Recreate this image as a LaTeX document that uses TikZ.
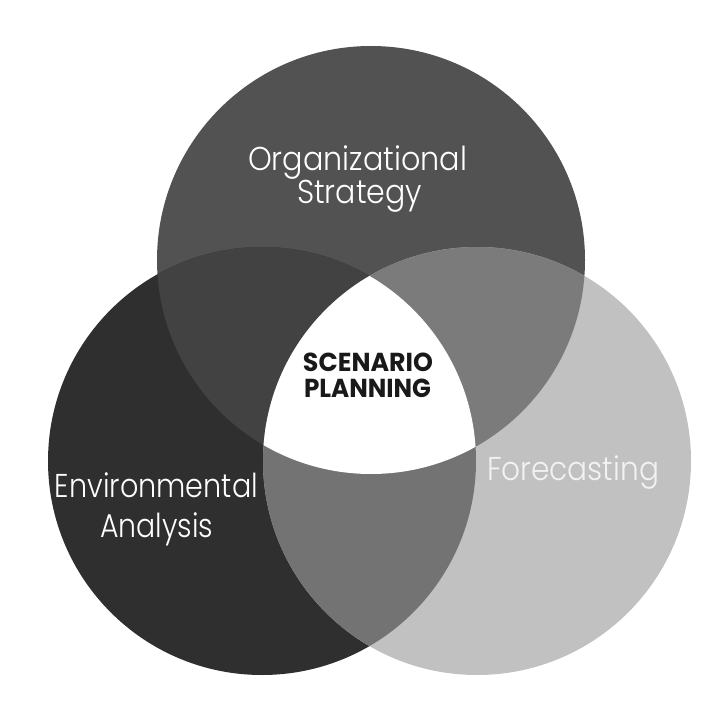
\documentclass[tikz,border=0pt]{standalone}
\usepackage{fontspec}
\usepackage{graphicx}
\setmainfont{Poppins}
\newfontfamily\lightf{Poppins Light}
\definecolor{ctop}{HTML}{525252}
\definecolor{cleft}{HTML}{2F2F2F}
\definecolor{cright}{HTML}{C1C1C1}
\definecolor{ctl}{HTML}{424242}
\definecolor{ctr}{HTML}{7B7B7B}
\definecolor{clr}{HTML}{737373}
\newcommand\fitw[2]{\resizebox{#1}{\height}{#2}}
\begin{document}
\begin{tikzpicture}[x=1pt,y=-1pt,
  lbl/.style={anchor=base,inner sep=0pt,text=white,font=\lightf\fontsize{33}{36}\selectfont},
  core/.style={anchor=base,inner sep=0pt,text=black!90,font=\fontsize{26}{30}\selectfont\bfseries}]
\useasboundingbox[fill=white] (0,0) rectangle (722,722);
\def\R{214pt}
\coordinate (T) at (371,260);
\coordinate (L) at (262,461);
\coordinate (Rc) at (477,461);
% single circles
\fill[ctop] (T) circle[radius=\R];
\fill[cleft] (L) circle[radius=\R];
\fill[cright] (Rc) circle[radius=\R];
% pairwise overlaps
\begin{scope}
  \clip (T) circle[radius=\R];
  \fill[ctl] (L) circle[radius=\R];
  \fill[ctr] (Rc) circle[radius=\R];
\end{scope}
\begin{scope}
  \clip (L) circle[radius=\R];
  \fill[clr] (Rc) circle[radius=\R];
\end{scope}
% triple overlap
\begin{scope}
  \clip (T) circle[radius=\R];
  \clip (L) circle[radius=\R];
  \fill[white] (Rc) circle[radius=\R];
\end{scope}
% labels
\node[lbl] (org) at (357.5,171) {\fitw{219pt}{Organizational}};
\node[lbl] (str) at (359.5,204) {\fitw{125pt}{Strategy}};
\node[lbl] (env) at (156.5,497) {\fitw{203pt}{Environmental}};
\node[lbl] (ana) at (156.5,537) {\fitw{113pt}{Analysis}};
\node[lbl,text=white!95!black] (fore) at (573,480) {\fitw{172pt}{Forecasting}};
\node[core] (scen) at (368,371) {\fitw{130pt}{SCENARIO}};
\node[core] (plan) at (367.5,397) {\fitw{127pt}{PLANNING}};
\end{tikzpicture}
\end{document}
